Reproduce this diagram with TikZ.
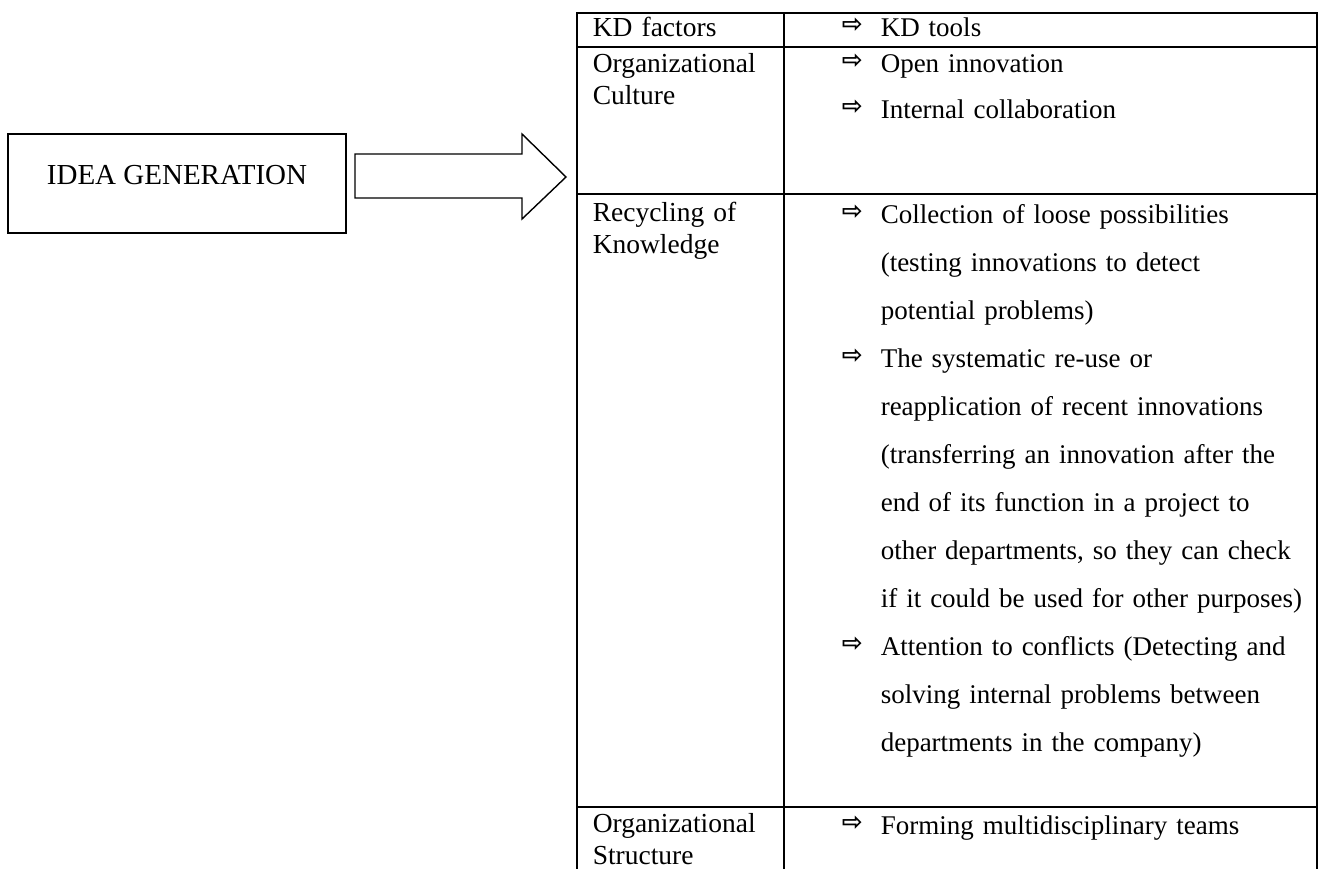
\documentclass[tikz,border=0pt]{standalone}
\usepackage{fontspec}
\setmainfont{Liberation Serif}
\newfontfamily\arrowfont{DejaVu Sans}
\usetikzlibrary{positioning}

\begin{document}
\begin{tikzpicture}[x=1pt, y=-1pt, line width=1.5pt]
	\tikzstyle{ideabox} = [draw, rectangle, minimum width=338pt, minimum height=99pt, font={\fontsize{29}{34}\selectfont}, text depth=18pt]
	\tikzstyle{factor} = [anchor=base west, inner sep=0pt, text width=185pt, align=left, font={\fontsize{27.5}{32}\selectfont}]
	\tikzstyle{tool} = [anchor=base west, inner sep=0pt, text width=480pt, align=left, font={\fontsize{27}{48}\selectfont\hyphenpenalty=10000}]
	\tikzstyle{toolarrow} = [anchor=base west, inner sep=0pt, yshift=4pt, font={\arrowfont\bfseries\fontsize{25}{25}\selectfont}]

	\useasboundingbox (0,0) rectangle (1322,869);

	\node[ideabox] (idea) at (177,183.5) {IDEA GENERATION};

	% big hollow arrow
	\draw[line width=1.4pt] (355,154) -- (522,154) -- (522,134) -- (566,177) -- (522,219) -- (522,198) -- (355,198) -- cycle;

	% table grid
	\draw (577,869) -- (577,13) -- (1317,13) -- (1317,869);
	\draw (784,13) -- (784,869);
	\foreach \y in {47,194,807}
		\draw (577,\y) -- (1317,\y);

	\node[factor] (kdf) at (592,37) {KD factors};
	\node[factor] (culture) at (592,73) {Organizational\\Culture};
	\node[factor] (recycling) at (592,222) {Recycling of\\Knowledge};
	\node[factor] (structure) at (592,832) {Organizational\\Structure};

	\node[toolarrow] (a0) at (841,37) {⇨};
	\node[tool] (kdt) at (880,37) {KD tools};
	\node[toolarrow] (a1) at (841,73) {⇨};
	\node[tool] (open) at (880,73) {Open innovation};
	\node[toolarrow] (a2) at (841,119) {⇨};
	\node[tool] (internal) at (880,119) {Internal collaboration};
	\node[toolarrow] (a3) at (841,223) {⇨};
	\node[tool] (loose) at (880,223) {Collection of loose possibilities\\(testing innovations to detect\\potential problems)};
	\node[toolarrow] (a4) at (841,367) {⇨};
	\node[tool] (reuse) at (880,367) {The systematic re-use or\\reapplication of recent innovations\\(transferring an innovation after the\\end of its function in a project to\\other departments, so they can check\\if it could be used for other purposes)};
	\node[toolarrow] (a5) at (841,655) {⇨};
	\node[tool] (conflicts) at (880,655) {Attention to conflicts (Detecting and\\solving internal problems between\\departments in the company)};
	\node[toolarrow] (a6) at (841,834) {⇨};
	\node[tool] (teams) at (880,834) {Forming multidisciplinary teams};
\end{tikzpicture}
\end{document}
